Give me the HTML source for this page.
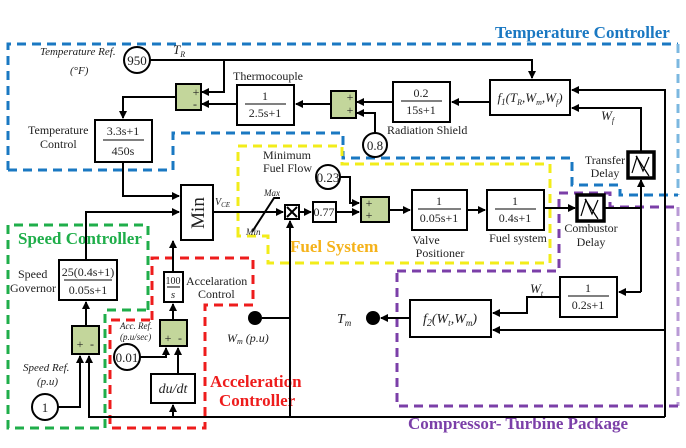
<!DOCTYPE html>
<html><head><meta charset="utf-8"><style>
html,body{margin:0;padding:0;background:#fff}
svg{display:block}
text{font-family:"Liberation Serif",serif;fill:#222}
.i{font-style:italic}
</style></head><body>
<svg width="686" height="448" viewBox="0 0 686 448" xmlns="http://www.w3.org/2000/svg">
<defs>
<marker id="a" markerWidth="8" markerHeight="8" refX="7" refY="4" orient="auto" markerUnits="userSpaceOnUse"><path d="M0,0 L8,4 L0,8 z" fill="#000"/></marker>
</defs>
<g fill="none" stroke-width="3" stroke-dasharray="9,6">
<path d="M8,170 L8,44 L678,44" stroke="#1a78c2"/>
<path d="M678,44 L678,195" stroke="#7cb8e0"/>
<path d="M8,170 L173,170 L173,133 L343,133 L343,158 L572,158 L572,185 L620,185 L620,195 L678,195" stroke="#1a78c2"/>
<path d="M238,236 L238,146 L342,146 L342,164 L550,164 L550,263 L268,263 L268,236 Z" stroke="#f2ec1a"/>
<path d="M397,271 L559,271 L559,193 L610,193 L610,207 L678,207" stroke="#7b3fa8"/>
<path d="M678,207 L678,406" stroke="#b99ad6"/>
<path d="M678,406 L397,406 L397,271" stroke="#7b3fa8"/>
<path d="M148,310 L148,225 L8,225 L8,428 L105,428 L105,310 Z" stroke="#1fae4a"/>
<path d="M152,320 L152,258 L253,258 L253,305 L205,305 L205,428 L110,428 L110,320 Z" stroke="#ee1c1c"/>
</g>
<text x="495" y="38" font-size="17" font-weight="bold" style="fill:#1a78c2">Temperature Controller</text>
<text x="290" y="252" font-size="17" font-weight="bold" style="fill:#f5b21a">Fuel System</text>
<text x="18" y="244" font-size="17" font-weight="bold" style="fill:#1fae4a">Speed Controller</text>
<text x="210" y="387" font-size="17" font-weight="bold" style="fill:#ee1c1c">Acceleration</text>
<text x="219" y="406" font-size="17" font-weight="bold" style="fill:#ee1c1c">Controller</text>
<text x="408" y="429" font-size="17" font-weight="bold" style="fill:#7b3fa8">Compressor- Turbine Package</text>

<g stroke="#000" stroke-width="2" fill="none">
<path d="M150,60 L532,60 L532,78" marker-end="url(#a)"/>
<path d="M224,60 L224,92 L202,92" marker-end="url(#a)"/>
<path d="M237,104 L202,104" marker-end="url(#a)"/>
<path d="M331,104 L296,104" marker-end="url(#a)"/>
<path d="M393,102 L357,102" marker-end="url(#a)"/>
<path d="M490,102 L452,102" marker-end="url(#a)"/>
<path d="M375,133 L375,113 L357,113" marker-end="url(#a)"/>
<path d="M176,97 L123,97 L123,118" marker-end="url(#a)"/>
<path d="M123,162 L123,196 L179,196" marker-end="url(#a)"/>
<path d="M86,260 L86,212 L179,212" marker-end="url(#a)"/>
<path d="M173,272 L173,241" marker-end="url(#a)"/>
<path d="M213,212 L283,212" marker-end="url(#a)"/>
<path d="M252,232 L274,198 L280,198"/>
<path d="M299,212 L311,212" marker-end="url(#a)"/>
<path d="M336,212 L359,212" marker-end="url(#a)"/>
<path d="M340,177 L350,177 L350,203 L359,203" marker-end="url(#a)"/>
<path d="M389,210 L410,210" marker-end="url(#a)"/>
<path d="M467,210 L485,210" marker-end="url(#a)"/>
<path d="M544,208 L575,208" marker-end="url(#a)"/>
<path d="M604,208 L641,208"/>
<path d="M641,292 L641,180" marker-end="url(#a)"/>
<path d="M641,292 L619,292" marker-end="url(#a)"/>
<path d="M641,152 L641,108 L572,108" marker-end="url(#a)"/>
<path d="M665,417 L665,90 L572,90" marker-end="url(#a)"/>
<path d="M665,330 L493,330" marker-end="url(#a)"/>
<path d="M560,297 L527,297 L527,313 L493,313" marker-end="url(#a)"/>
<path d="M410,318 L381,318" marker-end="url(#a)"/>
<path d="M88,417 L665,417"/>
<path d="M89,417 L89,356" marker-end="url(#a)"/>
<path d="M58,407 L80,407 L80,356" marker-end="url(#a)"/>
<path d="M86,326 L86,302" marker-end="url(#a)"/>
<path d="M173,320 L173,304" marker-end="url(#a)"/>
<path d="M140,357 L166,357 L166,348" marker-end="url(#a)"/>
<path d="M178,374 L178,348" marker-end="url(#a)"/>
<path d="M173,417 L173,405" marker-end="url(#a)"/>
<path d="M262,318 L290,318"/>
<path d="M290,417 L290,221" marker-end="url(#a)"/>
</g>

<g stroke="#000" stroke-width="2" fill="#fff">
<rect x="237" y="85" width="57" height="40"/>
<rect x="393" y="82" width="57" height="40"/>
<rect x="490" y="80" width="80" height="35"/>
<rect x="95" y="120" width="57" height="42"/>
<rect x="181" y="185" width="32" height="55"/>
<rect x="285" y="205" width="14" height="14"/>
<rect x="313" y="202" width="23" height="20"/>
<rect x="412" y="190" width="55" height="40"/>
<rect x="487" y="190" width="57" height="40"/>
<rect x="560" y="277" width="57" height="40"/>
<rect x="410" y="300" width="81" height="37"/>
<rect x="59" y="260" width="58" height="40"/>
<rect x="164" y="272" width="19" height="30"/>
<rect x="151" y="374" width="44" height="29"/>
</g>
<g stroke="#000" stroke-width="3.5" fill="#fff">
<rect x="577" y="195" width="27" height="26"/>
<rect x="628" y="152" width="26" height="26"/>
</g>
<g stroke="#000" stroke-width="1.2" fill="none">
<path d="M581,216 L586,200 L592,214 L598,200"/><path d="M585,199 L598,219"/>
<path d="M632,173 L637,157 L643,171 L649,157"/><path d="M636,156 L649,176"/>
<path d="M287,207 L297,217 M297,207 L287,217" stroke-width="2"/>
</g>
<g stroke="#000" stroke-width="2" fill="#c3d69b">
<rect x="176" y="84" width="25" height="26"/>
<rect x="331" y="91" width="25" height="27"/>
<rect x="361" y="197" width="28" height="25"/>
<rect x="72" y="326" width="27" height="28"/>
<rect x="160" y="320" width="27" height="26"/>
</g>
<g font-size="12" text-anchor="middle">
<text x="196" y="96">+</text><text x="195" y="108">-</text>
<text x="350" y="101">+</text><text x="350" y="114">+</text>
<text x="369" y="207">+</text><text x="369" y="219">+</text>
<text x="80" y="348">+</text><text x="92" y="348">-</text>
<text x="168" y="342">+</text><text x="180" y="342">-</text>
</g>
<g stroke="#000" stroke-width="2" fill="#fff">
<circle cx="137" cy="60" r="13"/>
<circle cx="375" cy="145" r="12"/>
<circle cx="328" cy="177" r="12"/>
<circle cx="45" cy="407" r="13"/>
<circle cx="127" cy="357" r="13"/>
</g>
<circle cx="255" cy="318" r="7" fill="#000"/>
<circle cx="373" cy="318" r="7" fill="#000"/>
<g font-size="13" text-anchor="middle">
<text x="137" y="65">950</text>
<text x="375" y="150">0.8</text>
<text x="328" y="182">0.23</text>
<text x="45" y="412">1</text>
<text x="127" y="362">0.01</text>
</g>
<g font-size="12" text-anchor="middle">
<text x="265" y="100">1</text><line x1="245" y1="104" x2="286" y2="104" stroke="#000"/><text x="265" y="117">2.5s+1</text>
<text x="421" y="97">0.2</text><line x1="401" y1="101" x2="442" y2="101" stroke="#000"/><text x="421" y="114">15s+1</text>
<text x="123" y="135">3.3s+1</text><line x1="103" y1="140" x2="144" y2="140" stroke="#000"/><text x="123" y="155">450s</text>
<text x="324" y="216">0.77</text>
<text x="439" y="205">1</text><line x1="418" y1="209" x2="461" y2="209" stroke="#000"/><text x="439" y="222">0.05s+1</text>
<text x="515" y="205">1</text><line x1="495" y1="209" x2="536" y2="209" stroke="#000"/><text x="515" y="222">0.4s+1</text>
<text x="588" y="292">1</text><line x1="568" y1="296" x2="609" y2="296" stroke="#000"/><text x="588" y="309">0.2s+1</text>
<text x="88" y="276">25(0.4s+1)</text><line x1="64" y1="280" x2="112" y2="280" stroke="#000"/><text x="88" y="294">0.05s+1</text>
<text x="173" y="284" font-size="10">100</text><line x1="167" y1="287" x2="180" y2="287" stroke="#000"/><text x="173" y="298" font-size="11" class="i">s</text>
<text x="173" y="393" font-size="14" class="i">du/dt</text>
<text x="530" y="102" font-size="13" class="i">f<tspan font-size="9" dy="3">1</tspan><tspan dy="-3">(T</tspan><tspan font-size="8" dy="3">R</tspan><tspan dy="-3">,W</tspan><tspan font-size="8" dy="3">m</tspan><tspan dy="-3">,W</tspan><tspan font-size="8" dy="3">f</tspan><tspan dy="-3">)</tspan></text>
<text x="450" y="323" font-size="14" class="i">f<tspan font-size="10" dy="3">2</tspan><tspan dy="-3">(W</tspan><tspan font-size="9" dy="3">t</tspan><tspan dy="-3">,W</tspan><tspan font-size="9" dy="3">m</tspan><tspan dy="-3">)</tspan></text>
</g>
<text transform="translate(204,213) rotate(-90)" font-size="19" text-anchor="middle">Min</text>
<g font-size="12">
<text x="40" y="55" class="i" font-size="11">Temperature Ref.</text>
<text x="70" y="74" class="i" font-size="11">(°F)</text>
<text x="173" y="54" class="i" font-size="13">T<tspan font-size="8" dy="3">R</tspan></text>
<text x="233" y="80">Thermocouple</text>
<text x="387" y="134">Radiation Shield</text>
<text x="28" y="134">Temperature</text>
<text x="40" y="148">Control</text>
<text x="263" y="159">Minimum</text>
<text x="263" y="172">Fuel Flow</text>
<text x="215" y="205" class="i" font-size="10">V<tspan font-size="7" dy="2">CE</tspan></text>
<text x="264" y="196" class="i" font-size="9">Max</text>
<text x="246" y="235" class="i" font-size="9">Min</text>
<text x="426" y="244" text-anchor="middle">Valve</text>
<text x="440" y="257" text-anchor="middle">Positioner</text>
<text x="518" y="242" text-anchor="middle">Fuel system</text>
<text x="591" y="232" text-anchor="middle">Combustor</text>
<text x="591" y="246" text-anchor="middle">Delay</text>
<text x="605" y="164" text-anchor="middle">Transfer</text>
<text x="605" y="177" text-anchor="middle">Delay</text>
<text x="601" y="120" class="i" font-size="13">W<tspan font-size="8" dy="3">f</tspan></text>
<text x="530" y="293" class="i" font-size="13">W<tspan font-size="8" dy="3">t</tspan></text>
<text x="337" y="323" class="i" font-size="14">T<tspan font-size="9" dy="3">m</tspan></text>
<text x="18" y="278">Speed</text>
<text x="10" y="292">Governor</text>
<text x="23" y="371" class="i" font-size="11">Speed Ref.</text>
<text x="37" y="385" class="i" font-size="11">(p.u)</text>
<text x="120" y="329" class="i" font-size="9">Acc. Ref.</text>
<text x="120" y="340" class="i" font-size="9">(p.u/sec)</text>
<text x="186" y="285">Accelaration</text>
<text x="198" y="298">Control</text>
<text x="227" y="342" class="i" font-size="12">W<tspan font-size="8" dy="2">m</tspan><tspan dy="-2"> (p.u)</tspan></text>
</g>
</svg>
</body></html>
